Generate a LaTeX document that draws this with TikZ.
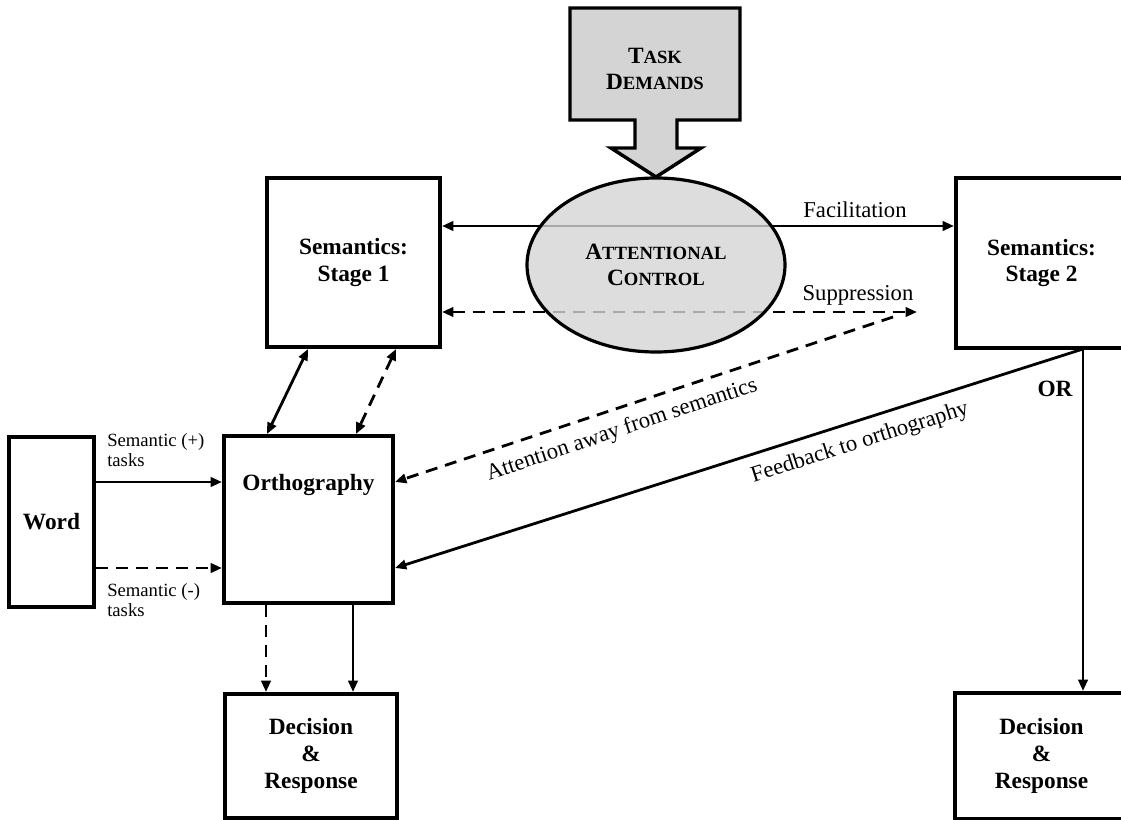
\documentclass[tikz,border=0pt]{standalone}
\usepackage{fontspec}
\setmainfont{Liberation Serif}
\usetikzlibrary{arrows.meta,shapes.geometric,calc}
\newcommand{\fakesc}[2]{#1{\fontsize{14}{20}\selectfont #2}}
\begin{document}
\begin{tikzpicture}[x=0.75pt,y=-0.75pt,
  box/.style={draw,line width=3pt,inner sep=0pt,align=center,
    font=\bfseries\fontsize{17.5}{20}\selectfont},
  conn/.style={line width=2.1pt},
  dsh/.style={conn,dash pattern=on 9pt off 6pt},
  tipe/.style={-{Triangle[length=8.5pt,width=7pt]}},
  tipb/.style={{Triangle[length=8.5pt,width=7pt]}-{Triangle[length=8.5pt,width=7pt]}},
  lbl/.style={inner sep=0pt,font=\fontsize{17}{20}\selectfont},
  smlbl/.style={inner sep=0pt,align=left,font=\fontsize{14}{15.5}\selectfont},
  gfill/.style={fill=black!17}
]
\useasboundingbox (0,0) rectangle (1121,820);
\clip (0,0) rectangle (1121,820);

% boxes
\node[box,minimum width=63.75pt,minimum height=127.5pt] (word) at (51.5,522) {Word};
\node[box,minimum width=126.75pt,minimum height=125.25pt] (orth) at (308.5,519.5) {};
\node[lbl,font=\bfseries\fontsize{17.5}{20}\selectfont] (orthT) at (308.5,485) {Orthography};
\node[box,minimum width=129.75pt,minimum height=126.75pt] (sem1) at (353.5,262.5) {Semantics:\\Stage 1};
\node[box,minimum width=128.25pt,minimum height=127.5pt] (sem2) at (1041.5,263) {Semantics:\\Stage 2};
\node[box,minimum width=129pt,minimum height=93pt] (dec1) at (311,756) {Decision\\\&\\Response};
\node[box,minimum width=129.75pt,minimum height=94.5pt] (dec2) at (1041.5,756) {Decision\\\&\\Response};

% helper coordinates
\coordinate (facY) at (0,226);
\coordinate (supY) at (0,312);
\coordinate (supEnd) at (917,312);
\coordinate (attStart) at (893,317);
\coordinate (attY) at (0,482);
\coordinate (fbStart) at (1083,349);
\coordinate (fbY) at (0,568);
\coordinate (plusY) at (0,482);
\coordinate (minusY) at (0,568);

% connectors (drawn before ellipse so they show through in grey)
\draw[conn,tipb] (sem1.east |- facY) -- (sem2.west |- facY);
\draw[dsh,tipb] (sem1.east |- supY) -- (supEnd);
\draw[dsh,tipe] (attStart) -- (orth.east |- attY);
\draw[conn,tipe] (fbStart) -- (orth.east |- fbY);
\draw[conn,tipe] (fbStart) -- (dec2.north -| fbStart);

\draw[conn,tipe] (word.east |- plusY) -- (orth.west |- plusY);
\draw[dsh,tipe] (word.east |- minusY) -- (orth.west |- minusY);

\draw[conn,tipb] ($(sem1.south west)+(43,0)$) -- ($(orth.north west)+(45,0)$);
\draw[dsh,tipb] ($(sem1.south west)+(131,0)$) -- ($(orth.north west)+(134,0)$);

\draw[dsh,tipe] (orth.south -| 266,0) -- (dec1.north -| 266,0);
\draw[conn,tipe] (orth.south -| 353,0) -- (dec1.north -| 353,0);

% attentional control ellipse
\node[ellipse,draw,line width=2.4pt,gfill,fill opacity=0.8,text opacity=1,
  minimum width=193.5pt,minimum height=130.5pt,inner sep=0pt,align=center,
  font=\bfseries\fontsize{17.5}{20}\selectfont] (att) at (656,265)
  {\fakesc{A}{TTENTIONAL}\\\fakesc{C}{ONTROL}};

% task demands block arrow
\draw[line width=2.6pt,gfill,line join=miter]
  (570,8) -- (740,8) -- (740,120) -- (677,120) -- (677,148) -- (701,148)
  -- (656,177) -- (611,148) -- (635,148) -- (635,120) -- (570,120) -- cycle;
\node[inner sep=0pt,align=center,font=\bfseries\fontsize{17.5}{20}\selectfont] (task) at (655,69)
  {\fakesc{T}{ASK}\\\fakesc{D}{EMANDS}};

% labels
\node[lbl] (facL) at (855,210) {Facilitation};
\node[lbl] (supL) at (858,295) {Suppression};
\node[lbl,font=\bfseries\fontsize{17.5}{20}\selectfont] (orL) at (1055,389) {OR};
\node[lbl,rotate=18.5] (attL) at (622,430) {Attention away from semantics};
\node[lbl,rotate=17.65] (fbL) at (860,443) {Feedback to orthography};
\node[smlbl,anchor=north west] (plusL) at (107,433) {Semantic (+)\\tasks};
\node[smlbl,anchor=north west] (minusL) at (107,583) {Semantic (-)\\tasks};
\end{tikzpicture}
\end{document}
